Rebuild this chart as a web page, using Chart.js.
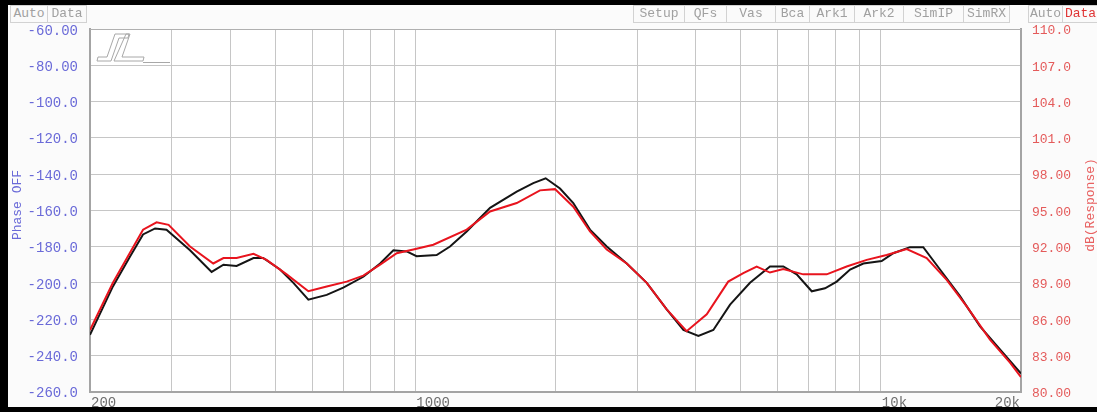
<!DOCTYPE html>
<html><head><meta charset="utf-8">
<script src="https://cdn.jsdelivr.net/npm/chart.js@4/dist/chart.umd.min.js"></script>
<style>
html,body{margin:0;padding:0;background:#fff;}
#wrap{position:relative;width:1097px;height:412px;overflow:hidden;background:#fbfbfb;font-family:"Liberation Mono","DejaVu Sans Mono",monospace;}
#c{position:absolute;left:0;top:0;}
.bar{position:absolute;background:#000;z-index:3;}
.btn{position:absolute;top:5px;height:18px;border:1px solid #d2d2d2;box-sizing:border-box;font-size:13px;line-height:16px;color:#a0a0a0;text-align:center;background:#fafafa;z-index:2;}
</style></head>
<body>
<div id="wrap">
<canvas id="c" width="1097" height="412"></canvas>
<div class="bar" style="left:0;top:0;width:1097px;height:5px"></div>
<div class="bar" style="left:0;top:0;width:8px;height:412px"></div>
<div class="bar" style="left:0;top:407px;width:1097px;height:5px"></div>
<div id="hdr"></div>
</div>
<script>
// ---- data ----
const blackFreq = [200,224,244,260,276,292,328,365,387,413,449,471,512,547,589,645,700,773,840,897,958,1006,1111,1187,1289,1447,1651,1792,1905,2045,2184,2372,2577,2845,3141,3467,3765,4055,4366,4743,5234,5778,6171,6594,7104,7586,8038,8587,9169,10038,10634,11548,12333,13398,14791,16331,18026,20000];
const blackDb   = [84.7,88.7,91.2,93.0,93.5,93.4,91.7,89.9,90.5,90.4,91.05,91.05,90.1,89.0,87.6,88.0,88.6,89.5,90.6,91.7,91.6,91.2,91.3,92.0,93.25,95.2,96.55,97.25,97.65,96.8,95.6,93.4,92.0,90.6,89.0,86.8,85.1,84.6,85.1,87.2,89.0,90.35,90.35,89.7,88.3,88.55,89.1,90.1,90.6,90.8,91.45,91.95,91.95,90.1,87.9,85.4,83.5,81.5];
const redFreq = [200,224,260,278,295,328,368,387,413,449,479,529,589,645,712,773,840,912,990,1093,1289,1447,1651,1852,1995,2184,2372,2577,2845,3141,3467,3826,4226,4700,5064,5410,5778,6171,6812,7650,8444,9324,10290,11364,12542,13848,15290,17157,18942,20000];
const redDb   = [85.1,89.0,93.4,94.0,93.8,92.0,90.6,91.05,91.05,91.4,90.9,89.7,88.3,88.7,89.1,89.6,90.5,91.45,91.75,92.15,93.4,94.9,95.6,96.65,96.75,95.3,93.25,91.75,90.6,89.0,86.8,85.0,86.4,89.1,89.8,90.35,89.85,90.15,89.7,89.7,90.35,90.9,91.3,91.8,91.05,89.25,87.05,84.3,82.4,81.2];
const xGridValues = [200,300,400,500,600,700,800,900,1000,2000,3000,4000,5000,6000,7000,8000,9000,10000,20000];
const xLabelValues = [200,1000,10000,20000];
const xLabelTexts = ['200','1000','10k','20k'];
const phaseMin = -260, phaseMax = -60, phaseStep = 20;
const dbMin = 80, dbMax = 110, dbStep = 3;
const leftButtons = ['Auto','Data'];
const rightButtons = ['Setup','QFs','Vas','Bca','Ark1','Ark2','SimIP','SimRX'];
const farButtons = ['Auto','Data'];
const leftTitle = 'Phase OFF';
const rightTitle = 'dB(Response)';

// ---- header buttons ----
const hdr = document.getElementById('hdr');
function addBtn(text, l, r, color){
  const d = document.createElement('div');
  d.className = 'btn'; d.textContent = text;
  d.style.left = l + 'px'; d.style.width = (r - l + 1) + 'px';
  if (color) d.style.color = color;
  hdr.appendChild(d);
}
const leftEdges = [10,47,86];
leftButtons.forEach((t,i)=>addBtn(t,leftEdges[i],leftEdges[i+1]));
const rightEdges = [633,684,726,775,809,854,903,963,1009];
rightButtons.forEach((t,i)=>addBtn(t,rightEdges[i],rightEdges[i+1]));
const farEdges = [1028,1062,1098];
farButtons.forEach((t,i)=>addBtn(t,farEdges[i],farEdges[i+1], i===1 ? '#e03434' : null));

const MONO = '"Liberation Mono","DejaVu Sans Mono",monospace';

const framePlugin = {
  id:'frame',
  beforeDraw(chart){
    const {ctx, chartArea:a} = chart;
    ctx.save();
    ctx.fillStyle = '#ffffff';
    ctx.fillRect(a.left, a.top, a.right - a.left, a.bottom - a.top);
    ctx.restore();
  },
  beforeDatasetsDraw(chart){
    const {ctx, chartArea:a} = chart;
    ctx.save();
    ctx.strokeStyle = '#b0b0b0'; ctx.lineWidth = 1;
    ctx.beginPath(); ctx.moveTo(a.left, a.top + 0.5); ctx.lineTo(a.right, a.top + 0.5); ctx.stroke();
    // logo outline
    const ox = a.left, oy = a.top;
    ctx.strokeStyle = '#a8a8a8'; ctx.lineWidth = 1;
    ctx.beginPath();
    ctx.moveTo(ox+7, oy+32); ctx.lineTo(ox+21, oy+32); ctx.lineTo(ox+29, oy+9);
    ctx.lineTo(ox+38, oy+9); ctx.lineTo(ox+39, oy+5); ctx.lineTo(ox+25, oy+5);
    ctx.lineTo(ox+17, oy+28); ctx.lineTo(ox+8, oy+28); ctx.closePath();
    ctx.moveTo(ox+24, oy+32); ctx.lineTo(ox+53, oy+32); ctx.lineTo(ox+54, oy+28);
    ctx.lineTo(ox+32, oy+28); ctx.lineTo(ox+40, oy+5); ctx.lineTo(ox+36, oy+5); ctx.closePath();
    ctx.stroke();
    ctx.beginPath(); ctx.moveTo(ox+53, oy+33.5); ctx.lineTo(ox+80, oy+33.5); ctx.stroke();
    ctx.restore();
  },
  afterDraw(chart){
    const {ctx} = chart;
    const xs = chart.scales.x;
    ctx.save();
    ctx.font = '14px ' + MONO;
    ctx.fillStyle = '#6e6e6e';
    ctx.textBaseline = 'middle';
    xLabelValues.forEach((v,i)=>{
      const px = xs.getPixelForValue(v);
      const last = i === xLabelValues.length - 1;
      ctx.textAlign = last ? 'right' : 'left';
      ctx.fillText(xLabelTexts[i], last ? px - 1 : px + 1, 403);
    });
    ctx.font = '13px ' + MONO;
    ctx.textAlign = 'center';
    ctx.fillStyle = '#6a6ad8';
    ctx.save(); ctx.translate(18, 205); ctx.rotate(-Math.PI/2); ctx.fillText(leftTitle, 0, 0); ctx.restore();
    ctx.fillStyle = '#e86060';
    ctx.save(); ctx.translate(1091, 205); ctx.rotate(-Math.PI/2); ctx.fillText(rightTitle, 0, 0); ctx.restore();
    ctx.restore();
  }
};

const toPts = (fs, ds) => fs.map((f,i)=>({x:f, y:ds[i]}));

new Chart(document.getElementById('c').getContext('2d'), {
  type:'line',
  data:{datasets:[
    {label:'Response', data:toPts(redFreq, redDb), borderColor:'#e8141e', borderWidth:2, pointRadius:0, tension:0, yAxisID:'y1', order:0},
    {label:'Reference', data:toPts(blackFreq, blackDb), borderColor:'#151515', borderWidth:2, pointRadius:0, tension:0, yAxisID:'y1', order:1}
  ]},
  options:{
    responsive:false, animation:false,
    layout:{padding:{top:29, left:0, right:0, bottom:0}},
    plugins:{legend:{display:false}, tooltip:{enabled:false}},
    scales:{
      x:{type:'logarithmic', min:200, max:20000,
        afterBuildTicks:s=>{ s.ticks = xGridValues.map(v=>({value:v})); },
        afterFit:s=>{ s.height = 20; },
        ticks:{display:false},
        grid:{color:'#c6c6c6', lineWidth:1, drawTicks:false},
        border:{color:'#a4a4a4', width:2}},
      y:{position:'left', min:phaseMin, max:phaseMax,
        afterFit:s=>{ s.width = 90; },
        ticks:{stepSize:phaseStep, callback:v=>Number(v).toPrecision(4), color:'#6a6ad8', font:{family:MONO, size:14}, padding:12, labelOffset:2},
        grid:{color:'#c6c6c6', lineWidth:1, drawTicks:false},
        border:{color:'#a4a4a4', width:2}},
      y1:{position:'right', min:dbMin, max:dbMax,
        afterFit:s=>{ s.width = 76; },
        ticks:{stepSize:dbStep, callback:v=>Number(v).toPrecision(4), color:'#e45a5a', font:{family:MONO, size:13}, padding:11, labelOffset:2},
        grid:{drawOnChartArea:false, drawTicks:false},
        border:{color:'#a4a4a4', width:2}}
    }
  },
  plugins:[framePlugin]
});
</script>
</body></html>
